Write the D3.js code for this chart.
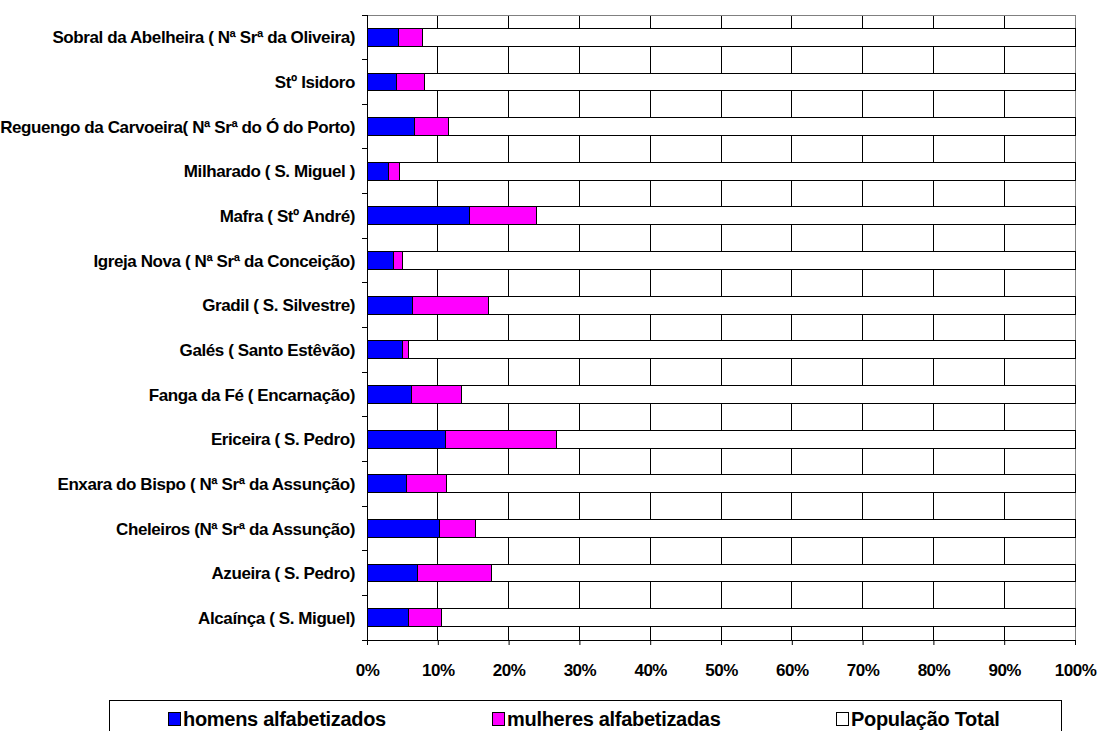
<!DOCTYPE html>
<html>
<head>
<meta charset="utf-8">
<script src="https://cdn.jsdelivr.net/npm/d3@7"></script>
<style>
  body { margin: 0; background: #fff; }
  text { font-family: "Liberation Sans", Arial, sans-serif; font-weight: bold; fill: #000; }
</style>
</head>
<body>
<script>
// parishes, top to bottom as shown
const categories = [
  "Sobral da Abelheira ( Nª Srª da Oliveira)",
  "Stº Isidoro",
  "Reguengo da Carvoeira( Nª Srª do Ó do Porto)",
  "Milharado ( S. Miguel )",
  "Mafra ( Stº André)",
  "Igreja Nova ( Nª Srª da Conceição)",
  "Gradil ( S. Silvestre)",
  "Galés ( Santo Estêvão)",
  "Fanga da Fé ( Encarnação)",
  "Ericeira ( S. Pedro)",
  "Enxara do Bispo ( Nª Srª da Assunção)",
  "Cheleiros (Nª Srª da Assunção)",
  "Azueira ( S. Pedro)",
  "Alcaínça ( S. Miguel)"
];
// shares of each bar (%)
const homens    = [4.4, 4.1, 6.7, 3.1, 14.5, 3.7, 6.4, 5.0, 6.3, 11.1, 5.6, 10.2, 7.2, 5.8];
const mulheres  = [3.5, 4.0, 4.8, 1.5, 9.4, 1.3, 10.7, 0.9, 7.0, 15.6, 5.6, 5.1, 10.4, 4.7];
const populacao = [92.1, 91.9, 88.5, 95.4, 76.1, 95.0, 82.9, 94.1, 86.7, 73.3, 88.8, 84.7, 82.4, 89.5];
const seriesNames = ["homens alfabetizados", "mulheres alfabetizadas", "População Total"];
const tickValues = [0, 0.1, 0.2, 0.3, 0.4, 0.5, 0.6, 0.7, 0.8, 0.9, 1];

const colors = ["#0000ff", "#ff00ff", "#ffffff"];
const W = 1099, H = 731;
const plot = {left: 367, right: 1075, top: 15, bottom: 640};

const svg = d3.select("body").append("svg")
    .attr("width", W)
    .attr("height", H);

const rows = categories.map((c, i) => ({cat: c, h: homens[i], m: mulheres[i], p: populacao[i]}));
const stacked = d3.stack().keys(["h", "m", "p"]).offset(d3.stackOffsetExpand)(rows);

const x = d3.scaleLinear().domain([0, 1]).range([plot.left, plot.right]);
const yb = d3.scaleBand().domain(categories).range([plot.top, plot.bottom]);
const y = d3.scaleBand().domain(categories).range([plot.top, plot.bottom])
            .paddingInner(0.6).paddingOuter(0.3);

// vertical gridlines
svg.append("g")
   .selectAll("line")
   .data(tickValues.slice(1, -1))
   .enter().append("line")
   .attr("x1", d => x(d)).attr("x2", d => x(d))
   .attr("y1", plot.top).attr("y2", plot.bottom)
   .attr("stroke", "#000").attr("stroke-width", 1)
   .attr("shape-rendering", "crispEdges");

// plot border top/right
svg.append("path")
   .attr("d", `M${plot.left},${plot.top}H${plot.right}V${plot.bottom}`)
   .attr("fill", "none").attr("stroke", "#808080")
   .attr("shape-rendering", "crispEdges");

// bars
svg.append("g")
   .selectAll("g")
   .data(stacked)
   .enter().append("g")
   .attr("fill", (d, i) => colors[i])
   .selectAll("rect")
   .data(d => d)
   .enter().append("rect")
   .attr("x", d => x(d[0]))
   .attr("width", d => x(d[1]) - x(d[0]))
   .attr("y", d => y(d.data.cat))
   .attr("height", y.bandwidth())
   .attr("stroke", "#000").attr("stroke-width", 1)
   .attr("shape-rendering", "crispEdges");

// x axis
const xAxis = svg.append("g")
   .attr("transform", `translate(0,${plot.bottom})`)
   .call(d3.axisBottom(x).tickValues(tickValues).tickFormat(d3.format(".0%"))
           .tickSize(5).tickPadding(19).tickSizeOuter(0));
xAxis.select(".domain").attr("stroke", "#000");
xAxis.selectAll("line").attr("stroke", "#000");
xAxis.selectAll("text").style("font-size", "17px").style("letter-spacing", "-0.5px")
     .attr("fill", "#000")
     .style("font-family", "'Liberation Sans', Arial, sans-serif").style("font-weight", "bold");

// y axis line + ticks at category boundaries
const bounds = categories.map(c => yb(c)).concat([plot.bottom]);
svg.append("line")
   .attr("x1", plot.left).attr("x2", plot.left)
   .attr("y1", plot.top).attr("y2", plot.bottom)
   .attr("stroke", "#000").attr("shape-rendering", "crispEdges");
svg.append("g").selectAll("line")
   .data(bounds)
   .enter().append("line")
   .attr("x1", plot.left - 5).attr("x2", plot.left)
   .attr("y1", d => d).attr("y2", d => d)
   .attr("stroke", "#000").attr("shape-rendering", "crispEdges");

// category labels
svg.append("g").selectAll("text")
   .data(categories)
   .enter().append("text")
   .attr("x", plot.left - 12)
   .attr("y", d => yb(d) + yb.bandwidth() / 2)
   .attr("dy", "0.36em")
   .attr("text-anchor", "end")
   .style("font-size", "17px")
   .style("letter-spacing", "-0.4px")
   .text(d => d);

// legend
const legend = svg.append("g");
legend.append("rect")
   .attr("x", 109.5).attr("y", 700.5)
   .attr("width", 952).attr("height", 50)
   .attr("fill", "#fff").attr("stroke", "#000");
const legendX = [168, 492, 836];
const item = legend.selectAll("g.item")
   .data(seriesNames)
   .enter().append("g")
   .attr("class", "item")
   .attr("transform", (d, i) => `translate(${legendX[i]},712)`);
item.append("rect")
   .attr("x", 0.5).attr("y", 0.5)
   .attr("width", 12).attr("height", 13)
   .attr("fill", (d, i) => colors[i])
   .attr("stroke", "#000");
item.append("text")
   .attr("x", 15).attr("y", 13.5)
   .style("font-size", "20px")
   .style("letter-spacing", "-0.3px")
   .text(d => d);
</script>
</body>
</html>
